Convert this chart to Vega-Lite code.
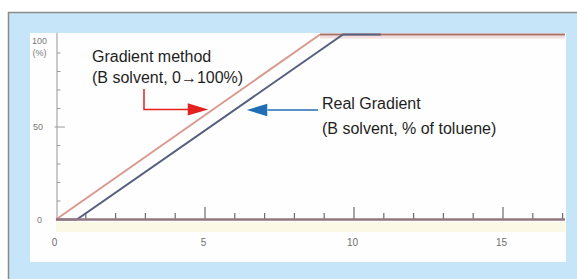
{
  "$schema": "https://vega.github.io/schema/vega-lite/v6.json",
  "width": 577,
  "height": 279,
  "autosize": {"type": "fit", "contains": "padding"},
  "padding": 0,
  "background": "white",
  "config": {"view": {"stroke": null}},
  "datasets": {
    "frame": [{"x": -1.594, "x2": 18, "y": 111.89, "y2": -40}],
    "panel": [{"x": -0.872, "x2": 17.114, "y": 100.8, "y2": -22.97}],
    "band": [{"x": 0, "x2": 17.1, "y": -1.35, "y2": -6.76}],
    "yaxis": [{"x": 0.034, "y": 0, "y2": 101}],
    "yticks": [
      {"y": 10, "x": 0.034, "x2": 0.15},
      {"y": 20, "x": 0.034, "x2": 0.15},
      {"y": 30, "x": 0.034, "x2": 0.15},
      {"y": 40, "x": 0.034, "x2": 0.15},
      {"y": 50, "x": -0.05, "x2": 0.3},
      {"y": 60, "x": 0.034, "x2": 0.15},
      {"y": 70, "x": 0.034, "x2": 0.15},
      {"y": 80, "x": 0.034, "x2": 0.15},
      {"y": 90, "x": 0.034, "x2": 0.15}
    ],
    "xticks": [
      {"x": 1, "y": 0, "h": 3.5}, {"x": 2, "y": 0, "h": 3.5}, {"x": 3, "y": 0, "h": 3.5}, {"x": 4, "y": 0, "h": 3.5},
      {"x": 5, "y": 0, "h": 6.8}, {"x": 6, "y": 0, "h": 3.5}, {"x": 7, "y": 0, "h": 3.5}, {"x": 8, "y": 0, "h": 3.5},
      {"x": 9, "y": 0, "h": 3.5}, {"x": 10, "y": 0, "h": 6.8}, {"x": 11, "y": 0, "h": 3.5}, {"x": 12, "y": 0, "h": 3.5},
      {"x": 13, "y": 0, "h": 3.5}, {"x": 14, "y": 0, "h": 3.5}, {"x": 15, "y": 0, "h": 6.8}, {"x": 16, "y": 0, "h": 3.5},
      {"x": 17, "y": 0, "h": 3.5}
    ],
    "xaxis": [{"x": 0, "x2": 17.08, "y": 0}],
    "top": [{"x": 8.86, "x2": 17.08, "y": 100}],
    "topshade": [{"x": 8.86, "x2": 17.08, "y": 98.6}],
    "method": [
      {"x": 0, "y": 0},
      {"x": 8.86, "y": 100}
    ],
    "real": [
      {"x": 0, "y": 0},
      {"x": 0.7, "y": 0},
      {"x": 9.63, "y": 100},
      {"x": 10.9, "y": 100}
    ],
    "redshaft": [
      {"o": 1, "x": 2.953, "y": 70.54},
      {"o": 2, "x": 2.953, "y": 59.5},
      {"o": 3, "x": 4.5, "y": 59.5}
    ],
    "blueshaft": [
      {"o": 1, "x": 7.1, "y": 59.2},
      {"o": 2, "x": 8.79, "y": 59.2}
    ],
    "redhead": [{"x": 4.765, "y": 59.5}],
    "bluehead": [{"x": 6.745, "y": 59.2}],
    "notes": [
      {"x": 1.208, "y": 85.1, "t": "Gradient method"},
      {"x": 1.208, "y": 73.8, "t": "(B solvent, 0→100%)"},
      {"x": 8.926, "y": 59.7, "t": "Real Gradient"},
      {"x": 8.926, "y": 46.2, "t": "(B solvent, % of toluene)"}
    ],
    "ylabels": [
      {"x": -0.55, "y": 96.5, "t": "100"},
      {"x": -0.55, "y": 90.0, "t": "(%)"},
      {"x": -0.6, "y": 50, "t": "50"},
      {"x": -0.55, "y": 0, "t": "0"}
    ],
    "xlabels": [
      {"x": -0.05, "y": -12.7, "t": "0"},
      {"x": 4.95, "y": -12.7, "t": "5"},
      {"x": 9.95, "y": -12.7, "t": "10"},
      {"x": 14.95, "y": -12.7, "t": "15"}
    ]
  },
  "layer": [
    {
      "data": {"name": "frame"},
      "mark": {"type": "rect", "fill": "#c6e5f8", "stroke": "#8a8a8a", "strokeWidth": 1.5, "clip": true},
      "encoding": {
        "x": {"field": "x", "type": "quantitative", "scale": {"domain": [-1.879, 17.483], "nice": false, "zero": false}, "axis": null},
        "x2": {"field": "x2"},
        "y": {"field": "y", "type": "quantitative", "scale": {"domain": [-32.16, 118.65], "nice": false, "zero": false}, "axis": null},
        "y2": {"field": "y2"}
      }
    },
    {
      "data": {"name": "panel"},
      "mark": {"type": "rect", "fill": "#fefefe"},
      "encoding": {
        "x": {"field": "x", "type": "quantitative", "axis": null},
        "x2": {"field": "x2"},
        "y": {"field": "y", "type": "quantitative", "axis": null},
        "y2": {"field": "y2"}
      }
    },
    {
      "data": {"name": "band"},
      "mark": {"type": "rect", "fill": "#fcf8e6"},
      "encoding": {
        "x": {"field": "x", "type": "quantitative", "axis": null},
        "x2": {"field": "x2"},
        "y": {"field": "y", "type": "quantitative", "axis": null},
        "y2": {"field": "y2"}
      }
    },
    {
      "data": {"name": "yaxis"},
      "mark": {"type": "rule", "color": "#b8b8b8", "strokeWidth": 1.5},
      "encoding": {
        "x": {"field": "x", "type": "quantitative", "axis": null},
        "y": {"field": "y", "type": "quantitative", "axis": null},
        "y2": {"field": "y2"}
      }
    },
    {
      "data": {"name": "yticks"},
      "mark": {"type": "rule", "color": "#999999", "strokeWidth": 1},
      "encoding": {
        "x": {"field": "x", "type": "quantitative", "axis": null},
        "x2": {"field": "x2"},
        "y": {"field": "y", "type": "quantitative", "axis": null}
      }
    },
    {
      "data": {"name": "xticks"},
      "mark": {"type": "rule", "color": "#6c6c6c", "strokeWidth": 1.2},
      "encoding": {
        "x": {"field": "x", "type": "quantitative", "axis": null},
        "y": {"field": "y", "type": "quantitative", "axis": null},
        "y2": {"field": "h"}
      }
    },
    {
      "data": {"name": "topshade"},
      "mark": {"type": "rule", "color": "#f1dede", "strokeWidth": 3},
      "encoding": {
        "x": {"field": "x", "type": "quantitative", "axis": null},
        "x2": {"field": "x2"},
        "y": {"field": "y", "type": "quantitative", "axis": null}
      }
    },
    {
      "data": {"name": "top"},
      "mark": {"type": "rule", "color": "#a77268", "strokeWidth": 2},
      "encoding": {
        "x": {"field": "x", "type": "quantitative", "axis": null},
        "x2": {"field": "x2"},
        "y": {"field": "y", "type": "quantitative", "axis": null}
      }
    },
    {
      "data": {"name": "method"},
      "mark": {"type": "line", "strokeWidth": 2, "color": "#d8998e"},
      "encoding": {
        "x": {"field": "x", "type": "quantitative", "axis": null},
        "y": {"field": "y", "type": "quantitative", "axis": null}
      }
    },
    {
      "data": {"name": "real"},
      "mark": {"type": "line", "strokeWidth": 2, "color": "#56607e"},
      "encoding": {
        "x": {"field": "x", "type": "quantitative", "axis": null},
        "y": {"field": "y", "type": "quantitative", "axis": null}
      }
    },
    {
      "data": {"name": "xaxis"},
      "mark": {"type": "rule", "color": "#937680", "strokeWidth": 2.5},
      "encoding": {
        "x": {"field": "x", "type": "quantitative", "axis": null},
        "x2": {"field": "x2"},
        "y": {"field": "y", "type": "quantitative", "axis": null}
      }
    },
    {
      "data": {"name": "redshaft"},
      "mark": {"type": "line", "strokeWidth": 1.5, "color": "#e3221f"},
      "encoding": {
        "x": {"field": "x", "type": "quantitative", "axis": null},
        "y": {"field": "y", "type": "quantitative", "axis": null},
        "order": {"field": "o", "type": "quantitative"}
      }
    },
    {
      "data": {"name": "blueshaft"},
      "mark": {"type": "line", "strokeWidth": 1.5, "color": "#1f6db5"},
      "encoding": {
        "x": {"field": "x", "type": "quantitative", "axis": null},
        "y": {"field": "y", "type": "quantitative", "axis": null},
        "order": {"field": "o", "type": "quantitative"}
      }
    },
    {
      "data": {"name": "redhead"},
      "mark": {"type": "point", "filled": true, "opacity": 1, "size": 420, "color": "#e3221f", "shape": "M1,0L-1,-0.6L-1,0.6Z"},
      "encoding": {
        "x": {"field": "x", "type": "quantitative", "axis": null},
        "y": {"field": "y", "type": "quantitative", "axis": null}
      }
    },
    {
      "data": {"name": "bluehead"},
      "mark": {"type": "point", "filled": true, "opacity": 1, "size": 420, "color": "#1f6db5", "shape": "M-1,0L1,-0.6L1,0.6Z"},
      "encoding": {
        "x": {"field": "x", "type": "quantitative", "axis": null},
        "y": {"field": "y", "type": "quantitative", "axis": null}
      }
    },
    {
      "data": {"name": "notes"},
      "mark": {"type": "text", "align": "left", "baseline": "alphabetic", "font": "Liberation Sans", "fontSize": 16, "color": "#1e1e1e"},
      "encoding": {
        "x": {"field": "x", "type": "quantitative", "axis": null},
        "y": {"field": "y", "type": "quantitative", "axis": null},
        "text": {"field": "t", "type": "nominal"}
      }
    },
    {
      "data": {"name": "ylabels"},
      "mark": {"type": "text", "align": "center", "baseline": "middle", "font": "Liberation Sans", "fontSize": 9, "color": "#7a7a7a"},
      "encoding": {
        "x": {"field": "x", "type": "quantitative", "axis": null},
        "y": {"field": "y", "type": "quantitative", "axis": null},
        "text": {"field": "t", "type": "nominal"}
      }
    },
    {
      "data": {"name": "xlabels"},
      "mark": {"type": "text", "align": "center", "baseline": "middle", "font": "Liberation Sans", "fontSize": 10, "color": "#6e6e6e"},
      "encoding": {
        "x": {"field": "x", "type": "quantitative", "axis": null},
        "y": {"field": "y", "type": "quantitative", "axis": null},
        "text": {"field": "t", "type": "nominal"}
      }
    }
  ]
}
